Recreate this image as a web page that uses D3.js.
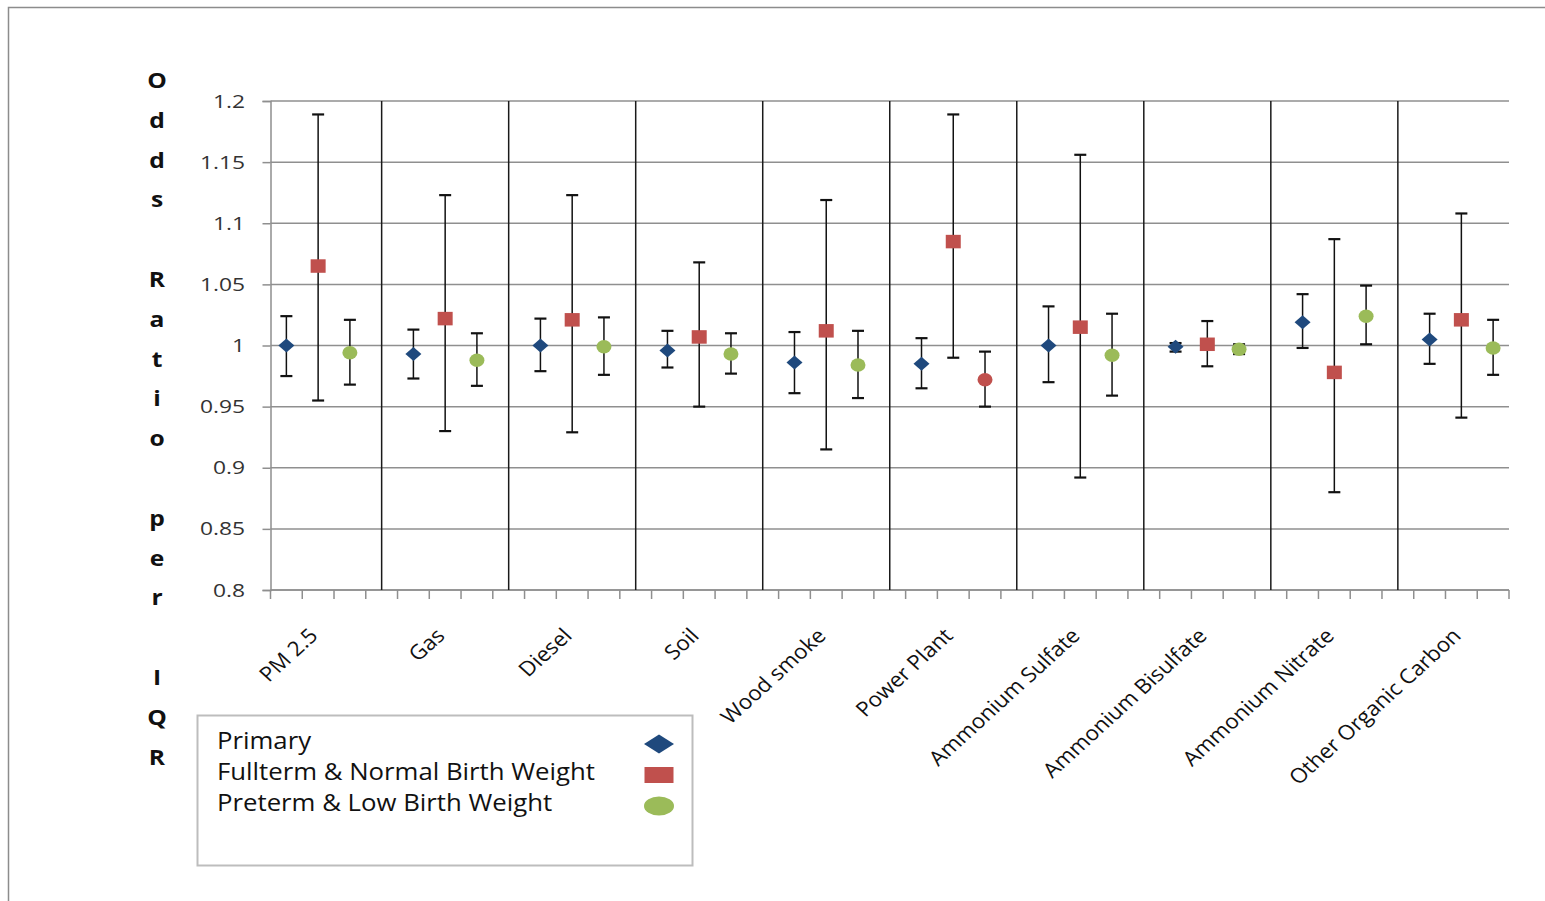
<!DOCTYPE html>
<meta charset="utf-8">
<script src="https://d3js.org/d3.v7.min.js"></script>
<style>
  body { margin: 0; background: #fff; }
  text { font-family: "Open Sans", sans-serif; }
</style>
<div id="chart"></div>
<script>
// source categories
var categories = ["PM 2.5", "Gas", "Diesel", "Soil", "Wood smoke", "Power Plant",
  "Ammonium Sulfate", "Ammonium Bisulfate", "Ammonium Nitrate", "Other Organic Carbon"];

// odds ratio per IQR with 95% CI
var primary   = [1.000, 0.993, 1.000, 0.996, 0.986, 0.985, 1.000, 0.999, 1.019, 1.005];
var primaryLo = [0.975, 0.973, 0.979, 0.982, 0.961, 0.965, 0.970, 0.995, 0.998, 0.985];
var primaryHi = [1.024, 1.013, 1.022, 1.012, 1.011, 1.006, 1.032, 1.002, 1.042, 1.026];

var fullterm   = [1.065, 1.022, 1.021, 1.007, 1.012, 1.085, 1.015, 1.001, 0.978, 1.021];
var fulltermLo = [0.955, 0.930, 0.929, 0.950, 0.915, 0.990, 0.892, 0.983, 0.880, 0.941];
var fulltermHi = [1.189, 1.123, 1.123, 1.068, 1.119, 1.189, 1.156, 1.020, 1.087, 1.108];

var preterm   = [0.994, 0.988, 0.999, 0.993, 0.984, 0.972, 0.992, 0.997, 1.024, 0.998];
var pretermLo = [0.968, 0.967, 0.976, 0.977, 0.957, 0.950, 0.959, 0.993, 1.001, 0.976];
var pretermHi = [1.021, 1.010, 1.023, 1.010, 1.012, 0.995, 1.026, 1.001, 1.049, 1.021];

// the preterm point drawn in red in the original
var pretermRed = ["Power Plant"];

var yTicks = [0.8, 0.85, 0.9, 0.95, 1, 1.05, 1.1, 1.15, 1.2];
var titleLetters = ["O","d","d","s","","R","a","t","i","o","","p","e","r","","I","Q","R"];

var colors = {primary: "#1F497D", fullterm: "#C0504D", preterm: "#9BBB59"};

var width = 1545, height = 901;
var plot = {left: 270.5, right: 1509, top: 101, bottom: 590};
// the original picture is a bit wider than tall, text included
var stretch = 1.12;

var svg = d3.select("#chart")
  .append("svg")
    .attr("width", width)
    .attr("height", height);

// outer frame
svg.append("path")
  .attr("d", "M8.5," + height + "V7.5H" + width)
  .attr("fill", "none")
  .attr("stroke", "#8c8c8c")
  .attr("stroke-width", 1.5);

// 4 slots per group, last separator slot dropped -> 39 slots
var nSlots = categories.length * 4 - 1;
var x = d3.scaleBand()
  .domain(d3.range(nSlots))
  .range([plot.left, plot.right]);
var y = d3.scaleLinear()
  .domain([0.8, 1.2])
  .range([plot.bottom, plot.top]);

function cx(i) { return x(i) + x.bandwidth() / 2; }

// horizontal gridlines
svg.append("g")
  .selectAll("line")
  .data(yTicks)
  .enter()
  .append("line")
    .attr("x1", plot.left)
    .attr("x2", plot.right)
    .attr("y1", function(d) { return y(d); })
    .attr("y2", function(d) { return y(d); })
    .attr("stroke", "#8f8f8f")
    .attr("stroke-width", 1.5);

// y axis
var yStretch = 1.2;
var yAxis = svg.append("g")
  .attr("transform", "translate(" + plot.left + ",0)")
  .call(d3.axisLeft(y).tickValues(yTicks).tickSize(8)
    .tickPadding((plot.left - 245) / yStretch - 8)
    .tickFormat(function(d) { return String(+d.toFixed(2)); }));
yAxis.select(".domain").attr("stroke", "#8f8f8f").attr("stroke-width", 1.5);
yAxis.selectAll(".tick line").attr("stroke", "#8f8f8f").attr("stroke-width", 1.5);
yAxis.selectAll(".tick text")
  .attr("transform", "scale(" + yStretch + ",1)")
  .attr("fill", "#333")
  .style("font-size", "19px")
  .style("font-family", "'Open Sans', sans-serif");

// x axis ticks at slot boundaries
var xb = d3.range(nSlots + 1).map(function(i) {
  return i < nSlots ? x(i) : plot.right;
});
svg.append("line")
  .attr("x1", plot.left).attr("x2", plot.right)
  .attr("y1", plot.bottom).attr("y2", plot.bottom)
  .attr("stroke", "#8f8f8f").attr("stroke-width", 1.5);
svg.append("g")
  .selectAll("line")
  .data(xb)
  .enter()
  .append("line")
    .attr("x1", function(d) { return d; })
    .attr("x2", function(d) { return d; })
    .attr("y1", plot.bottom)
    .attr("y2", plot.bottom + 9)
    .attr("stroke", "#8f8f8f")
    .attr("stroke-width", 1.5);

// group separators
svg.append("g")
  .selectAll("line")
  .data(d3.range(categories.length - 1))
  .enter()
  .append("line")
    .attr("x1", function(g) { return cx(g * 4 + 3); })
    .attr("x2", function(g) { return cx(g * 4 + 3); })
    .attr("y1", plot.top)
    .attr("y2", plot.bottom)
    .attr("stroke", "#1a1a1a")
    .attr("stroke-width", 1.5);

// category labels
svg.append("g")
  .selectAll("text")
  .data(categories)
  .enter()
  .append("text")
    .attr("transform", function(d, g) {
      return "translate(" + (cx(g * 4 + 1) + 1) + ",637) scale(1.1,1) rotate(-45)";
    })
    .attr("text-anchor", "end")
    .attr("fill", "#111")
    .style("font-size", "20.5px")
    .text(function(d) { return d; });

// build points
var series = [
  {key: "primary", off: 0, v: primary, lo: primaryLo, hi: primaryHi},
  {key: "fullterm", off: 1, v: fullterm, lo: fulltermLo, hi: fulltermHi},
  {key: "preterm", off: 2, v: preterm, lo: pretermLo, hi: pretermHi}
];
var points = [];
series.forEach(function(s) {
  categories.forEach(function(c, g) {
    points.push({key: s.key, cat: c, slot: g * 4 + s.off, v: s.v[g], lo: s.lo[g], hi: s.hi[g]});
  });
});

// error bars
var eb = svg.append("g").attr("stroke", "#111");
eb.selectAll(".stem")
  .data(points)
  .enter()
  .append("line")
    .attr("x1", function(d) { return cx(d.slot); })
    .attr("x2", function(d) { return cx(d.slot); })
    .attr("y1", function(d) { return y(d.hi); })
    .attr("y2", function(d) { return y(d.lo); })
    .attr("stroke-width", 1.5);
["hi", "lo"].forEach(function(k) {
  eb.selectAll(".cap-" + k)
    .data(points)
    .enter()
    .append("line")
      .attr("x1", function(d) { return cx(d.slot) - 6; })
      .attr("x2", function(d) { return cx(d.slot) + 6; })
      .attr("y1", function(d) { return y(d[k]); })
      .attr("y2", function(d) { return y(d[k]); })
      .attr("stroke-width", 2.2);
});

// markers
function marker(sel, key, w, h) {
  if (key === "primary") {
    sel.append("path")
      .attr("d", "M" + (-w / 2) + ",0L0," + (-h / 2) + "L" + (w / 2) + ",0L0," + (h / 2) + "Z")
      .attr("fill", colors.primary);
  } else if (key === "fullterm") {
    sel.append("rect")
      .attr("x", -w / 2).attr("y", -h / 2)
      .attr("width", w).attr("height", h)
      .attr("fill", colors.fullterm);
  } else {
    sel.append("ellipse")
      .attr("rx", w / 2).attr("ry", h / 2)
      .attr("fill", colors.preterm);
  }
}
var mk = svg.append("g")
  .selectAll("g")
  .data(points)
  .enter()
  .append("g")
    .attr("transform", function(d) { return "translate(" + cx(d.slot) + "," + y(d.v) + ")"; });
mk.each(function(d) {
  marker(d3.select(this), d.key, d.key === "primary" ? 16 : 15, d.key === "primary" ? 14 : 13.5);
});
mk.filter(function(d) { return d.key === "preterm" && pretermRed.indexOf(d.cat) >= 0; })
  .select("ellipse")
    .attr("fill", colors.fullterm);

// y title, one letter per line
svg.append("g")
  .selectAll("text")
  .data(titleLetters)
  .enter()
  .append("text")
    .attr("transform", function(d, i) {
      return "translate(157," + (88 + i * 39.8) + ") scale(" + stretch + ",1)";
    })
    .attr("text-anchor", "middle")
    .attr("fill", "#111")
    .style("font-size", "22px")
    .style("font-weight", "bold")
    .text(function(d) { return d; });

// legend
var legendItems = [
  {key: "primary", label: "Primary"},
  {key: "fullterm", label: "Fullterm & Normal Birth Weight"},
  {key: "preterm", label: "Preterm & Low Birth Weight"}
];
var legend = svg.append("g");
legend.append("rect")
  .attr("x", 197.5).attr("y", 715.5)
  .attr("width", 495).attr("height", 150)
  .attr("fill", "#fff")
  .attr("stroke", "#bdbdbd")
  .attr("stroke-width", 2);
var li = legend.selectAll(".item")
  .data(legendItems)
  .enter()
  .append("g")
    .attr("transform", function(d, i) { return "translate(0," + (i * 31) + ")"; });
li.append("text")
  .attr("transform", "translate(217,749) scale(" + stretch + ",1)")
  .attr("fill", "#111")
  .style("font-size", "23px")
  .text(function(d) { return d.label; });
li.append("g")
  .attr("transform", "translate(659,744)")
  .each(function(d) {
    marker(d3.select(this), d.key, d.key === "fullterm" ? 29 : 30, d.key === "fullterm" ? 16 : 19);
  });
</script>
